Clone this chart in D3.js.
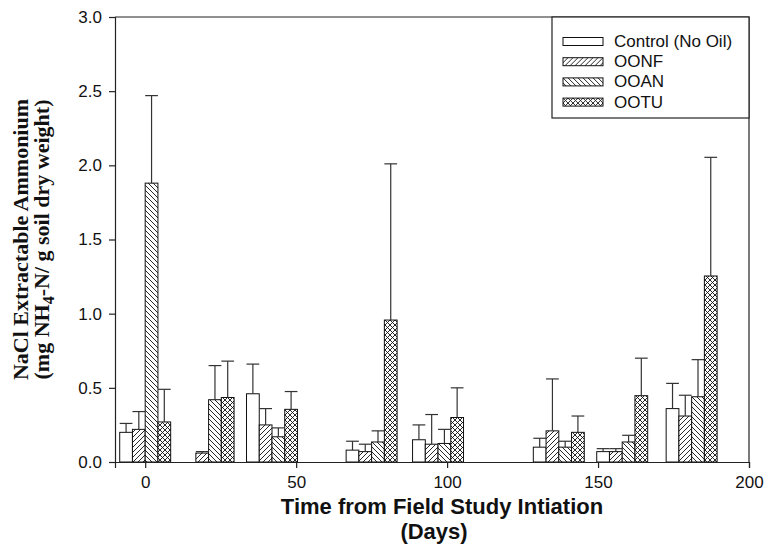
<!DOCTYPE html>
<html>
<head>
<meta charset="utf-8">
<script src="https://cdn.jsdelivr.net/npm/d3@7"></script>
<style>
  body { margin: 0; background: #fff; }
  svg { display: block; }
</style>
</head>
<body>
<svg id="chart" width="776" height="548"></svg>
<script>
// sampling days (x position of each bar group)
const days = [0, 21, 42, 75, 97, 137, 158, 181];
const seriesNames = ['Control (No Oil)', 'OONF', 'OOAN', 'OOTU'];
// mean values
const control = [0.20, 0, 0.46, 0.08, 0.15, 0.10, 0.07, 0.36];
const oonf = [0.22, 0.06, 0.25, 0.07, 0.12, 0.21, 0.07, 0.31];
const ooan = [1.88, 0.42, 0.17, 0.135, 0.125, 0.10, 0.135, 0.44];
const ootu = [0.27, 0.435, 0.355, 0.957, 0.30, 0.20, 0.447, 1.254];
// error (upper whisker length)
const controlErr = [0.06, 0, 0.20, 0.06, 0.10, 0.06, 0.02, 0.17];
const oonfErr = [0.12, 0.01, 0.11, 0.05, 0.20, 0.35, 0.02, 0.14];
const ooanErr = [0.59, 0.23, 0.06, 0.075, 0.095, 0.04, 0.045, 0.25];
const ootuErr = [0.22, 0.245, 0.12, 1.053, 0.20, 0.11, 0.253, 0.80];
const xTicks = [0, 50, 100, 150, 200];
const yTicks = [0, 0.5, 1.0, 1.5, 2.0, 2.5, 3.0];

const values = [control, oonf, ooan, ootu];
const errors = [controlErr, oonfErr, ooanErr, ootuErr];
const fills = ['#fff', 'url(#pNF)', 'url(#pAN)', 'url(#pTU)'];

const margin = { top: 17, right: 27, bottom: 86, left: 115 };
const width = 776, height = 548;
const svg = d3.select('#chart');

// hatch patterns
const defs = svg.append('defs');
const hatch = (id, paths) => {
  const p = defs.append('pattern')
    .attr('id', id)
    .attr('patternUnits', 'userSpaceOnUse')
    .attr('width', 5)
    .attr('height', 5);
  p.append('rect').attr('width', 5).attr('height', 5).attr('fill', '#fff');
  paths.forEach((d) => {
    p.append('path').attr('d', d)
      .attr('stroke', '#111').attr('stroke-width', 0.9)
      .attr('fill', 'none');
  });
};
const fwd = 'M-1,1 L1,-1 M0,5 L5,0 M4,6 L6,4';
const back = 'M-1,4 L1,6 M0,0 L5,5 M4,-1 L6,1';
hatch('pNF', [fwd]);
hatch('pAN', [back]);
hatch('pTU', [fwd, back]);

const x = d3.scaleLinear()
  .domain([-10, 200])
  .range([margin.left, width - margin.right]);
const y = d3.scaleLinear()
  .domain([0, 3])
  .range([height - margin.bottom, margin.top]);

const barW = 4.22; // bar width in days

// frame (top & right)
svg.append('path')
  .attr('d', `M${x(-10)},${y(3)} H${x(200)} V${y(0)}`)
  .attr('fill', 'none')
  .attr('stroke', '#222')
  .attr('stroke-width', 1.2);

// bars
const groups = svg.selectAll('.grp')
  .data(days)
  .enter()
  .append('g')
  .attr('class', 'grp');

values.forEach((vals, s) => {
  groups.filter((d, i) => vals[i] > 0)
    .append('rect')
    .attr('x', (d) => x(d + (s - 2) * barW))
    .attr('y', (d) => y(vals[days.indexOf(d)]))
    .attr('width', x(barW) - x(0))
    .attr('height', (d) => y(0) - y(vals[days.indexOf(d)]))
    .attr('fill', fills[s])
    .attr('stroke', '#111')
    .attr('stroke-width', 1);
});

// error bars
values.forEach((vals, s) => {
  const errs = errors[s];
  days.forEach((d, i) => {
    if (!(vals[i] > 0)) return;
    const cx = x(d + (s - 1.5) * barW);
    const half = (x(barW) - x(0)) / 2;
    const top = y(vals[i] + errs[i]);
    svg.append('line')
      .attr('x1', cx).attr('x2', cx)
      .attr('y1', y(vals[i])).attr('y2', top)
      .attr('stroke', '#333').attr('stroke-width', 1.2);
    svg.append('line')
      .attr('x1', cx - half).attr('x2', cx + half)
      .attr('y1', top).attr('y2', top)
      .attr('stroke', '#333').attr('stroke-width', 1.2);
  });
});

// axes
const xAxis = svg.append('g')
  .attr('transform', `translate(0,${y(0)})`)
  .call(d3.axisBottom(x).tickValues(xTicks).tickSize(6).tickPadding(8).tickFormat(d3.format('d')));
const yAxis = svg.append('g')
  .attr('transform', `translate(${x(-10)},0)`)
  .call(d3.axisLeft(y).tickValues(yTicks).tickSize(6).tickPadding(7).tickFormat(d3.format('.1f')));
[xAxis, yAxis].forEach((a) => {
  a.select('.domain').attr('stroke', '#222').attr('stroke-width', 1.2);
  a.selectAll('.tick line').attr('stroke', '#222').attr('stroke-width', 1.2);
  a.selectAll('.tick text')
    .attr('fill', '#111')
    .style('font-family', 'Liberation Sans, Arial, sans-serif')
    .style('font-size', '17px');
});

// x title
svg.append('text')
  .attr('x', 442).attr('y', 514)
  .attr('text-anchor', 'middle')
  .style('font-family', 'Liberation Sans, Arial, sans-serif')
  .style('font-weight', 'bold')
  .style('font-size', '22px')
  .attr('fill', '#111')
  .text('Time from Field Study Intiation');
svg.append('text')
  .attr('x', 434).attr('y', 539)
  .attr('text-anchor', 'middle')
  .style('font-family', 'Liberation Sans, Arial, sans-serif')
  .style('font-weight', 'bold')
  .style('font-size', '22px')
  .attr('fill', '#111')
  .text('(Days)');

// y title
const yTitle = svg.append('g')
  .attr('transform', `translate(0,${(y(0) + y(3)) / 2}) rotate(-90)`)
  .style('font-family', 'Liberation Serif, Times New Roman, serif')
  .style('font-weight', 'bold')
  .style('font-size', '22px')
  .attr('fill', '#111');
yTitle.append('text')
  .attr('x', 0).attr('y', 28)
  .attr('text-anchor', 'middle')
  .text('NaCl Extractable Ammonium');
const l2 = yTitle.append('text')
  .attr('x', 0).attr('y', 49)
  .attr('text-anchor', 'middle');
l2.append('tspan').text('(mg NH');
l2.append('tspan').attr('dy', 5).style('font-size', '16px').text('4');
l2.append('tspan').attr('dy', -5).text('-N/ g soil dry weight)');

// legend
const lg = svg.append('g');
lg.append('rect')
  .attr('x', 552).attr('y', y(3))
  .attr('width', x(200) - 552).attr('height', 101)
  .attr('fill', '#fff')
  .attr('stroke', '#222')
  .attr('stroke-width', 1.2);
const items = lg.selectAll('.item')
  .data(seriesNames)
  .enter()
  .append('g')
  .attr('class', 'item')
  .attr('transform', (d, i) => `translate(563,${37.5 + i * 20.2})`);
items.append('rect')
  .attr('width', 40).attr('height', 8)
  .attr('fill', (d, i) => fills[i])
  .attr('stroke', '#111')
  .attr('stroke-width', 1);
items.append('text')
  .attr('x', 51).attr('y', 9.5)
  .style('font-family', 'Liberation Sans, Arial, sans-serif')
  .style('font-size', '17px')
  .attr('fill', '#111')
  .text((d) => d);
</script>
</body>
</html>
